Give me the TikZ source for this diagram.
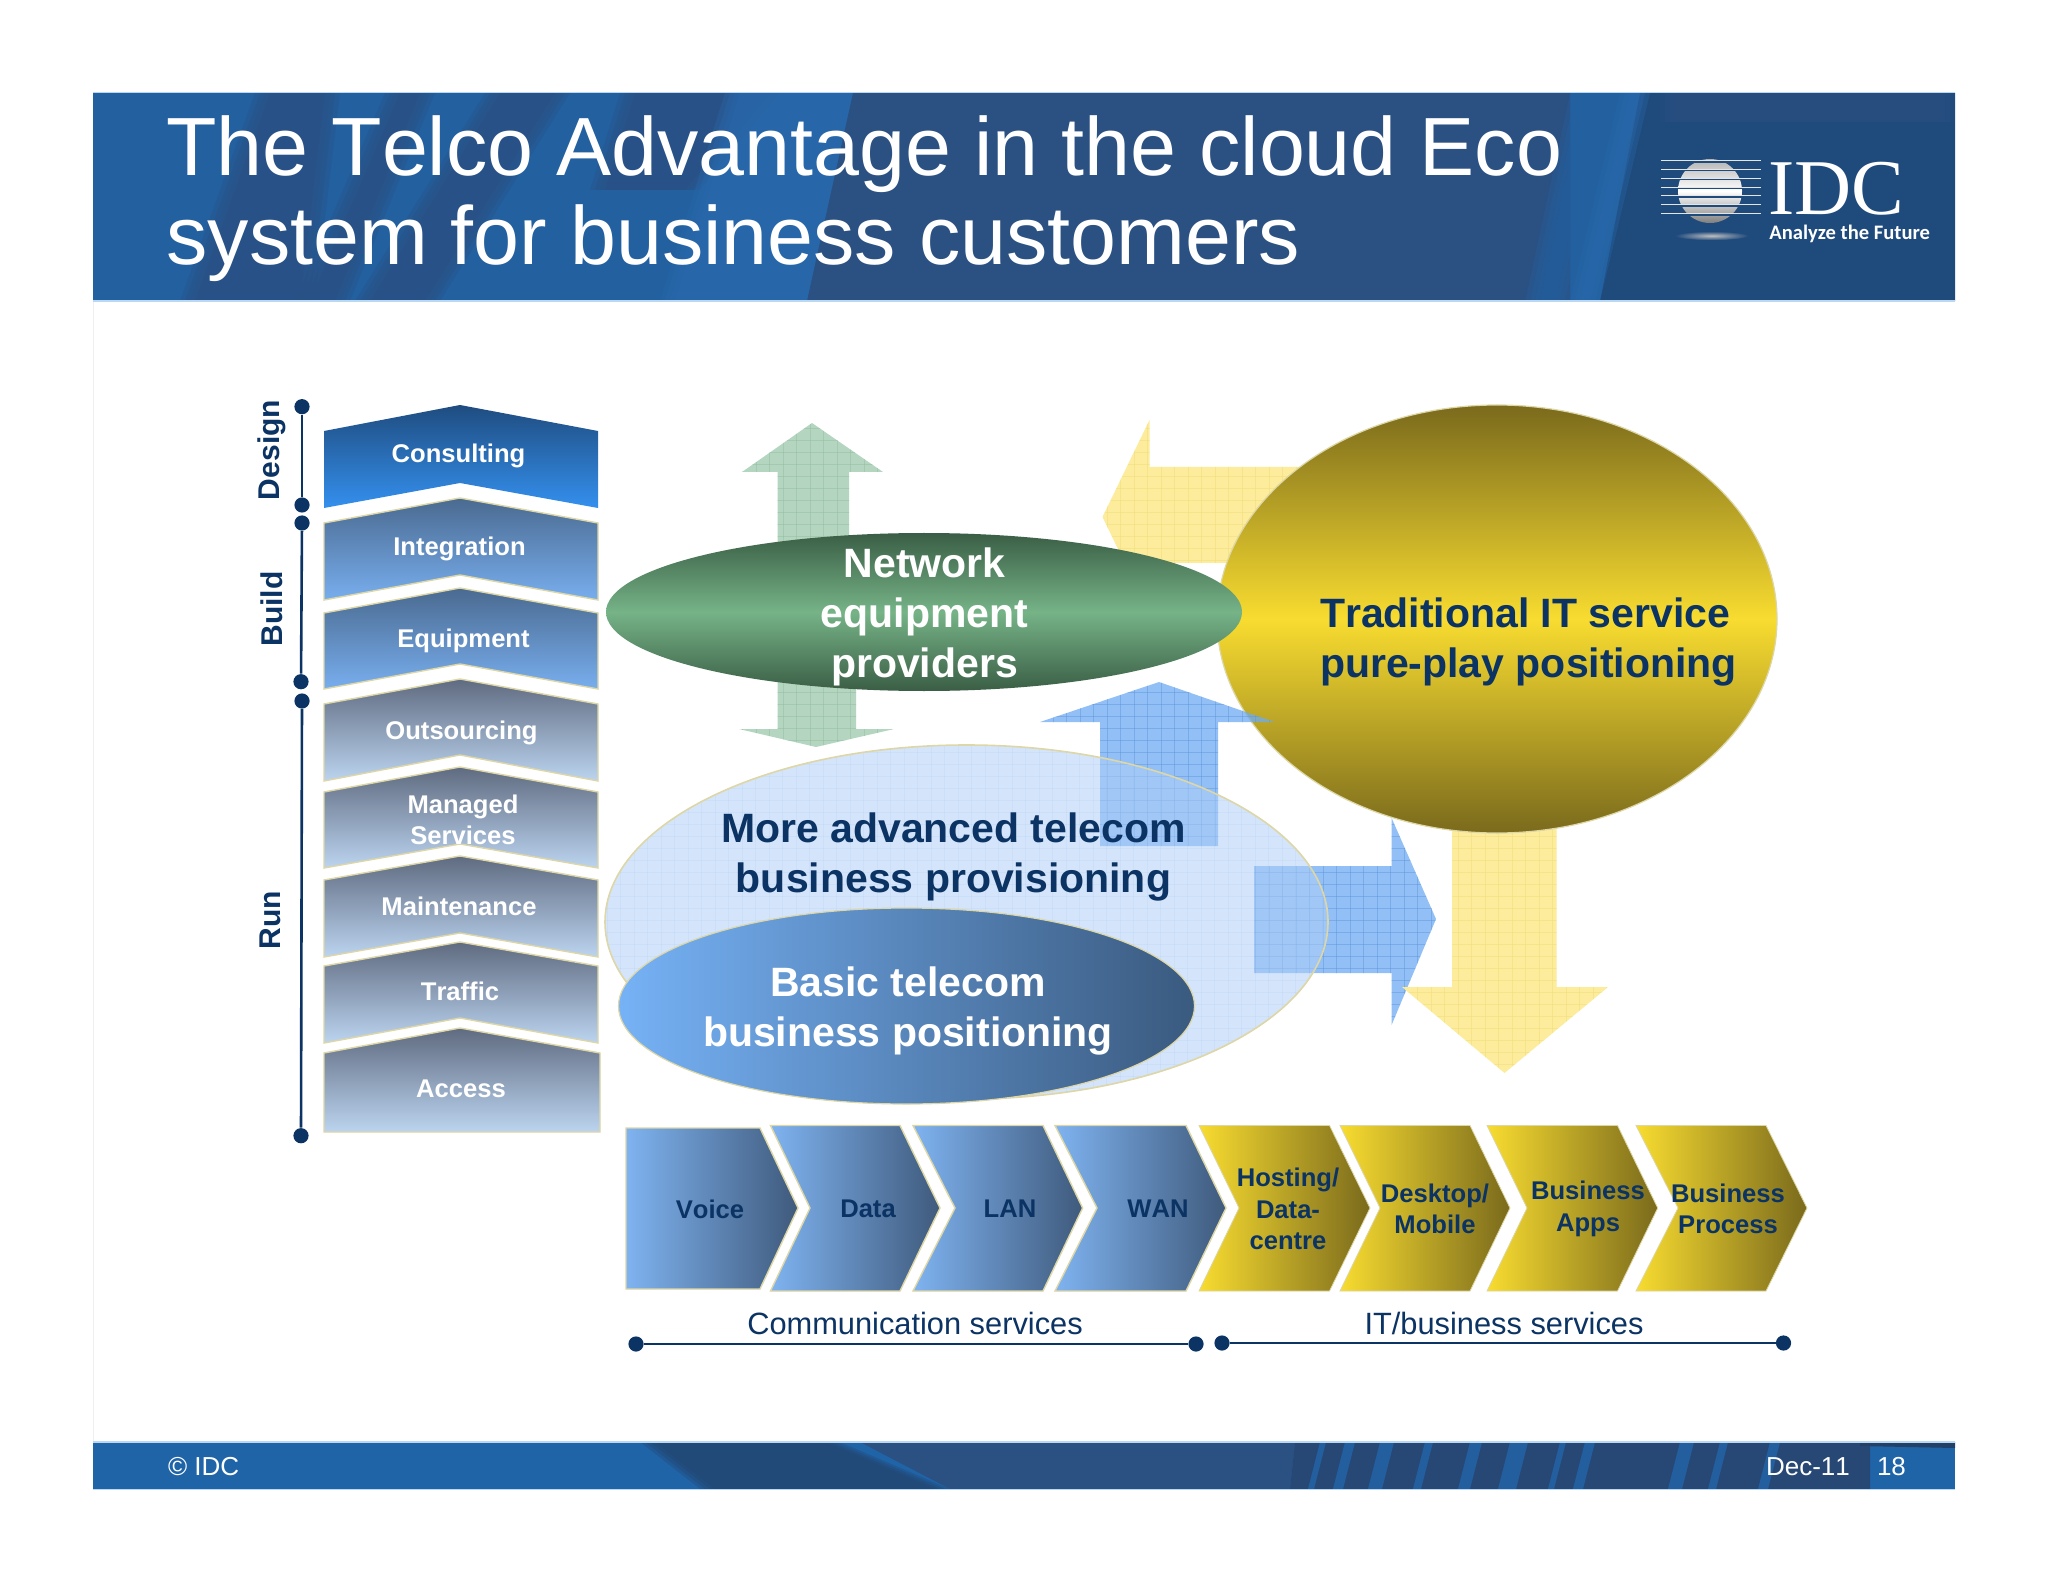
\documentclass[tikz,border=0pt]{standalone}
\usepackage{fontspec}
\setmainfont[Kerning=Off]{Liberation Sans}
\newfontfamily\serfont{Liberation Serif}
\newfontfamily\tagfont{Carlito}
\usetikzlibrary{shapes.geometric}
\definecolor{navy}{HTML}{0B3363}
\definecolor{tan}{HTML}{DDD6A6}
\definecolor{hbase}{HTML}{22609F}
\definecolor{hdark}{HTML}{2B5082}
\definecolor{hdeep}{HTML}{1F4A7C}
\definecolor{hbright}{HTML}{2A6AAE}
\definecolor{blueA}{HTML}{6EACF3}
\definecolor{blueL}{HTML}{5A92D8}
\definecolor{yelA}{HTML}{FCEC9C}
\definecolor{yelL}{HTML}{F0DC78}
\definecolor{grnA}{HTML}{B4D6C0}
\definecolor{grnL}{HTML}{8FBBA0}
\definecolor{paleE}{HTML}{AFCFF9}
\definecolor{paleL}{HTML}{8FB4E6}
\definecolor{conTop}{HTML}{1F4C80}
\definecolor{conBot}{HTML}{3490EE}
\definecolor{bTop}{HTML}{4A6A90}
\definecolor{bBot}{HTML}{78AEEE}
\definecolor{gTop}{HTML}{5F6B80}
\definecolor{gBot}{HTML}{BCD4F0}
\definecolor{chL}{HTML}{7FB3F0}
\definecolor{chM}{HTML}{6C97CC}
\definecolor{chR}{HTML}{3F5A7C}
\definecolor{yeL}{HTML}{F8DC30}
\definecolor{yeR}{HTML}{7A6A1C}
\definecolor{basL}{HTML}{76B2F6}
\definecolor{basM}{HTML}{5F8FC8}
\definecolor{basR}{HTML}{3A5A7F}
\definecolor{netTop}{HTML}{3A5E45}
\definecolor{netMid}{HTML}{76B387}
\definecolor{footB}{HTML}{2064A8}
\definecolor{edgeB}{HTML}{BBD8F2}
\tikzset{
  x=0.5pt,y=-0.5pt,
  tlabel/.style={inner sep=0pt,outer sep=0pt,text=white,font=\fontsize{12.8}{15.6}\selectfont\bfseries,align=center},
  clabel/.style={inner sep=0pt,outer sep=0pt,text=navy,font=\fontsize{12.8}{15.7}\selectfont\bfseries,align=center},
  big/.style={inner sep=0pt,outer sep=0pt,font=\fontsize{20.5}{25}\selectfont\bfseries,align=center},
  side/.style={inner sep=0pt,outer sep=0pt,text=navy,rotate=90,font=\fontsize{15}{18}\selectfont\bfseries},
  serv/.style={inner sep=0pt,outer sep=0pt,text=navy,font=\fontsize{15.4}{18}\selectfont},
  foot/.style={inner sep=0pt,outer sep=0pt,text=white,font=\fontsize{13}{15}\selectfont},
  dot/.style={circle,fill=navy,inner sep=0pt,minimum size=7.6pt},
  rail/.style={draw=navy,line width=1.3pt},
  blkcon/.style={top color=conTop,bottom color=conBot},
  blkblue/.style={top color=bTop,bottom color=bBot,draw=tan,line width=0.7pt},
  blkgrey/.style={top color=gTop,bottom color=gBot,draw=tan,line width=0.7pt},
  chblue/.style={left color=chL,middle color=chM,right color=chR,draw=tan,line width=0.7pt},
  chyel/.style={left color=yeL,right color=yeR,draw=tan,line width=0.4pt},
}
\newcommand\vblock[5]{\path[#1] (324,#3) -- (460,#2) -- (598,#3) -- (598,#4) -- (460,#5) -- (324,#4) -- cycle;}
\newcommand\hblock[5]{\path[#1] (#2,1125.5) -- (#4,1125.5) -- (#5,1208) -- (#4,1291) -- (#2,1291) -- (#3,1208) -- cycle;}
% fill colour, line colour, fill opacity, path
\newcommand\gridfill[4]{%
  \begin{scope}
    \clip #4;
    \fill[#1,fill opacity=#3] (590,400) rectangle (1640,1110);
    \foreach \gx in {594,607.5,...,1640} \draw[#2,line width=0.25pt,opacity=0.45] (\gx,400) -- (\gx,1110);
    \foreach \gy in {404,416,...,1110} \draw[#2,line width=0.25pt,opacity=0.45] (590,\gy) -- (1640,\gy);
  \end{scope}}
% soft-edged slanted band: colour, x top left, x top right, x bottom left, x bottom right, y top, y bottom
\newcommand\softband[7]{%
  \foreach \k in {0,1,2,3}
    \fill[#1,opacity=0.33] (#2+\k*5,#6) -- (#3-\k*5,#6) -- (#5-\k*5,#7) -- (#4+\k*5,#7) -- cycle;}
\begin{document}
\begin{tikzpicture}
\useasboundingbox (0,0) rectangle (2048,1582);
\fill[white] (0,0) rectangle (2048,1582);
\draw[black!6,line width=0.4pt] (93,301) -- (93,1442);
% ---------- header band
\begin{scope}
  \clip (93,93) rectangle (1955,301);
  \fill[hbase] (93,93) rectangle (1955,301);
  \softband{hdark}{255}{340}{180}{315}{93}{301}
  \softband{hdark}{385}{435}{295}{350}{93}{301}
  \softband{hdark}{485}{570}{355}{440}{93}{301}
  \softband{hdark}{620}{780}{590}{700}{93}{190}
  \softband{hbright}{725}{880}{660}{840}{93}{301}
  \fill[hdark] (853,93) -- (1570,93) -- (1570,301) -- (807,301) -- cycle;
  \fill[hdeep] (1640,93) -- (1955,93) -- (1955,301) -- (1600,301) -- cycle;
  \softband{hbase}{1570}{1615}{1525}{1570}{93}{301}
  \softband{hbright}{1620}{1650}{1570}{1600}{93}{301}
  \softband{hdark}{1660}{1955}{1660}{1955}{93}{122}
\end{scope}
\draw[edgeB,line width=0.8pt] (93,92.5) -- (1955,92.5) (93,301) -- (1955,301);
\node[anchor=west,inner sep=0pt,text=white,align=left,font=\fontsize{41.3}{44.5}\selectfont] (title) at (166,199)
  {The Telco Advantage in the cloud Eco\\system for business customers};
% logo
\shade[top color=black!30,bottom color=black!50,middle color=white] (1710,191) circle[radius=32];
\foreach \ly in {160.7,169.3,178.3,187.3,196,205,214}{
  \fill[hdeep] (1678,\ly-0.5) rectangle (1744,\ly+2);
  \draw[white!90!black,line width=0.5pt] (1661,\ly) -- (1761,\ly);
}
\shade[inner color=white!75!black,outer color=hdeep] (1711.7,235.7) ellipse[x radius=37,y radius=4.5];
\node[anchor=base west,inner sep=0pt,text depth=0pt,text=white,font=\fontsize{39.5}{42}\serfont] (idc) at (1768,215) {IDC};
\node[anchor=base west,inner sep=0pt,text=white,font=\fontsize{10.3}{12}\tagfont\bfseries] (tag) at (1769,240) {Analyze the Future};
% ---------- left stack
\vblock{blkcon}{405}{431}{508}{483}
\vblock{blkblue}{498}{523}{600}{575}
\vblock{blkblue}{588}{613}{689}{664}
\vblock{blkgrey}{679}{704}{781}{755}
\vblock{blkgrey}{767}{792}{868}{844}
\vblock{blkgrey}{856}{880}{957}{933}
\vblock{blkgrey}{942}{966}{1043}{1018}
\path[blkgrey] (324,1053) -- (460,1028) -- (600,1053) -- (600,1132) -- (324,1132) -- cycle;
\node[tlabel] (consulting) at (458.5,456) {Consulting};
\node[tlabel] (integration) at (459.5,549) {Integration};
\node[tlabel] (equipment) at (463.5,641) {Equipment};
\node[tlabel] (outsourcing) at (461.5,733) {Outsourcing};
\node[tlabel] (managed) at (463,820) {Managed\\Services};
\node[tlabel] (maintenance) at (459,906) {Maintenance};
\node[tlabel] (traffic) at (460,991) {Traffic};
\node[tlabel] (access) at (461,1089) {Access};
% rails
\node[dot] (d1) at (302,406.7) {};
\node[dot] (d2) at (302,505) {};
\node[dot] (b1) at (302,523) {};
\node[dot] (b2) at (301,681.7) {};
\node[dot] (r1) at (302,701) {};
\node[dot] (r2) at (301,1135.7) {};
\draw[rail] (d1) -- (d2);
\draw[rail] (b1) -- (b2);
\draw[rail] (r1) -- (r2);
\node[side] (design) at (272,450) {Design};
\node[side] (build) at (272,609) {Build};
\node[side] (run) at (270,920) {Run};
% ---------- arrows
\gridfill{grnA}{grnL}{1}{(812,423) -- (883,472) -- (849,472) -- (849,640) -- (777.5,640) -- (777.5,472) -- (742,472) -- cycle}
\gridfill{grnA}{grnL}{1}{(777.5,640) -- (856,640) -- (856,729) -- (894,729) -- (816,747) -- (739,729) -- (777.5,729) -- cycle}
\gridfill{yelA}{yelL}{1}{(1102.5,517) -- (1149.5,420) -- (1149.5,467) -- (1320,467) -- (1320,563) -- (1149.5,563) -- (1149.5,614) -- cycle}
\gridfill{blueA}{blueL}{0.75}{(1254,866) -- (1391.6,866) -- (1391.6,818) -- (1436,919) -- (1391.6,1025) -- (1391.6,973) -- (1254,973) -- cycle}
\gridfill{yelA}{yelL}{1}{(1452,780) -- (1556.6,780) -- (1556.6,987) -- (1608,987) -- (1504.5,1073) -- (1402,987) -- (1452,987) -- cycle}
% ---------- gold circle
\path[top color=yeR,bottom color=yeR,middle color=yeL,draw=tan,line width=0.6pt] (1497,619) ellipse[x radius=280,y radius=214];
\gridfill{blueA}{blueL}{0.75}{(1159,682) -- (1274.5,722) -- (1218,722) -- (1218,846) -- (1100,846) -- (1100,722) -- (1040,722) -- cycle}
% ---------- pale ellipse
\begin{scope}
  \clip (966.5,922) ellipse[x radius=361.5,y radius=177];
  \fill[paleE,fill opacity=0.53] (590,700) rectangle (1340,1110);
  \foreach \gx in {607,620.5,...,1340} \draw[paleL,line width=0.25pt,opacity=0.12] (\gx,700) -- (\gx,1110);
  \foreach \gy in {704,716,...,1110} \draw[paleL,line width=0.25pt,opacity=0.12] (590,\gy) -- (1340,\gy);
\end{scope}
\draw[tan,line width=0.8pt] (966.5,922) ellipse[x radius=361.5,y radius=177];
\node[big,text=navy] (advanced) at (953.5,857) {More advanced telecom\\business provisioning};
% ---------- basic ellipse
\path[left color=basL,middle color=basM,right color=basR,draw=tan,line width=0.6pt] (906.5,1006) ellipse[x radius=288,y radius=98];
\node[big,text=white] (basic) at (908,1011) {Basic telecom\\business positioning};
% ---------- green ellipse
\path[top color=netTop,bottom color=netTop,middle color=netMid] (924,612) ellipse[x radius=318,y radius=79];
\node[big,text=white] (network) at (924.5,617) {Network\\equipment\\providers};
\node[big,text=navy,align=left,anchor=west] (traditional) at (1320,642) {Traditional IT service\\pure-play positioning};
% ---------- bottom chevrons
\path[chblue] (626,1128) -- (760,1128) -- (798,1208) -- (760,1289) -- (626,1289) -- cycle;
\hblock{chblue}{770.5}{810}{900}{940}
\hblock{chblue}{913}{955}{1043}{1082.6}
\hblock{chblue}{1055}{1097}{1186}{1226}
\hblock{chyel}{1199}{1239}{1329.5}{1370}
\hblock{chyel}{1340}{1380}{1470}{1510}
\hblock{chyel}{1487}{1527}{1617.5}{1657.7}
\hblock{chyel}{1636}{1678}{1766}{1807}
\node[clabel] (voice) at (710,1209) {Voice};
\node[clabel] (data) at (868,1209) {Data};
\node[clabel] (lan) at (1010,1209) {LAN};
\node[clabel] (wan) at (1158,1209) {WAN};
\node[clabel] (hosting) at (1288,1209) {Hosting/\\Data-\\centre};
\node[clabel] (desktop) at (1435,1209) {Desktop/\\Mobile};
\node[clabel] (apps) at (1588,1209) {Business\\Apps};
\node[clabel] (process) at (1728,1209) {Business\\Process};
% ---------- service rails
\node[serv] (comm) at (915,1323) {Communication services};
\node[serv] (itb) at (1504,1323) {IT/business services};
\node[dot] (c1) at (636,1344) {};
\node[dot] (c2) at (1196,1344) {};
\node[dot] (i1) at (1222,1343) {};
\node[dot] (i2) at (1783.5,1343) {};
\draw[rail] (c1) -- (c2);
\draw[rail] (i1) -- (i2);
% ---------- footer
\begin{scope}
  \clip (93,1442) rectangle (1955,1489);
  \fill[footB] (93,1442) rectangle (1955,1489);
  \softband{hdark!85!black}{640}{840}{700}{950}{1442}{1489}
  \fill[hdark] (860,1442) -- (1295,1442) -- (1290,1489) -- (950,1489) -- cycle;
  \fill[hdark!90!black] (1295,1442) -- (1870,1442) -- (1870,1489) -- (1290,1489) -- cycle;
  \foreach \sx/\sw in {1320/6,1345/10,1380/14,1425/8,1470/12,1510/18,1560/6,1585/10,1680/14,1720/8,1770/10}
    \fill[footB!75!hdark] (\sx,1442) -- (\sx+\sw,1442) -- (\sx+\sw-12,1489) -- (\sx-12,1489) -- cycle;
  \fill[hdark!80!black] (1860,1442) -- (1955,1442) -- (1955,1448) -- (1860,1446) -- cycle;
\end{scope}
\draw[edgeB,line width=0.8pt] (93,1442) -- (1955,1442) (93,1489.5) -- (1955,1489.5);
\node[foot,anchor=west] (copy) at (168,1467) {© IDC};
\node[foot,anchor=west] (date) at (1766,1467) {Dec-11};
\node[foot,anchor=west] (page) at (1877,1467) {18};
\end{tikzpicture}
\end{document}
